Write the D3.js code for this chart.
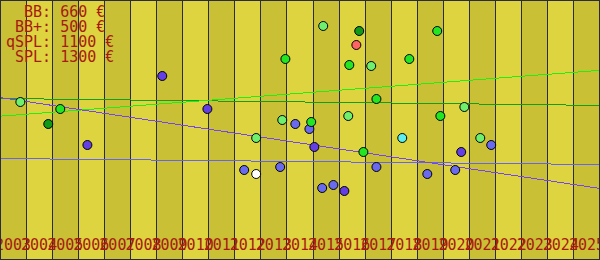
<!DOCTYPE html>
<html><head><meta charset="utf-8">
<script src="https://cdn.jsdelivr.net/npm/d3@7/dist/d3.min.js"></script>
<style>html,body{margin:0;padding:0;background:#fff}svg{display:block}</style>
</head><body>
<script>
// ---- data (years as decimal years, values in chart units: higher = higher on chart) ----
const yearLabels = ["2003","2004","2005","2006","2007","2008","2009","2010","2011","2012","2013","2014",
  "2015","2016","2017","2018","2019","2020","2021","2022","2023","2024","2025"];
const legendLines = ["  BB: 660 €", " BB+: 500 €", "qSPL: 1100 €", " SPL: 1300 €"];

const bluePoints = [[2014.32,136],[2014.86,131],[2012.36,90],[2013.74,93],[2017.43,93],[2015.35,72],
  [2015.78,75],[2019.38,86],[2020.45,90],[2021.83,115]];
const purplePoints = [[2006.35,115],[2009.22,184],[2010.95,151],[2015.05,113],[2016.20,69],[2020.68,108]];
const whitePoints = [[2012.82,86]];
const cyanPoints = [[2018.42,122]];
const lightGreenPoints = [[2003.78,158],[2015.39,234],[2017.23,194],[2020.80,153],[2013.82,140],
  [2016.35,144],[2012.82,122],[2021.41,122]];
const brightGreenPoints = [[2005.31,151],[2013.94,201],[2016.39,195],[2017.43,161],[2019.76,229],
  [2018.69,201],[2019.88,144],[2014.93,138],[2016.93,108]];
const darkGreenPoints = [[2004.85,136],[2016.77,229]];
const redPoints = [[2016.66,215]];

const trendPurple = [[2003,162.5],[2026,71.5]];
const trendBrightGreen = [[2003,143.8],[2026,189.7]];
const trendDarkGreen = [[2003,161.5],[2026,154.6]];
const trendBlue = [[2003,101.5],[2026,95.5]];

// ---- drawing ----
const W = 600, H = 260;
const x = d3.scaleLinear().domain([2003, 2026]).range([0, W]);
const y = d3.scaleLinear().domain([0, 260]).range([H, 0]);

const svg = d3.select("body").append("svg").attr("width", W).attr("height", H);

// year bands
svg.append("g").selectAll("rect").data(yearLabels).join("rect")
  .attr("x", d => x(+d)).attr("y", 0)
  .attr("width", d => x(+d + 1) - x(+d)).attr("height", H)
  .attr("fill", (d, i) => i % 2 === 0 ? "#c9c036" : "#ddd43f")
  .attr("shape-rendering", "crispEdges");

// vertical grid lines
svg.append("g").selectAll("line").data(yearLabels.slice(1)).join("line")
  .attr("x1", d => Math.floor(x(+d)) + 0.5).attr("x2", d => Math.floor(x(+d)) + 0.5)
  .attr("y1", 0).attr("y2", H)
  .attr("stroke", "#2c2c38").attr("stroke-width", 1)
  .attr("shape-rendering", "crispEdges");

// trend lines
const line = d3.line().x(d => x(d[0])).y(d => y(d[1]));
const trends = [
  [trendBlue, "#6464f0"],
  [trendDarkGreen, "#14a014"],
  [trendBrightGreen, "#22ee11"],
  [trendPurple, "#7444f4"]
];
svg.append("g").selectAll("path").data(trends).join("path")
  .attr("d", d => line(d[0]))
  .attr("fill", "none").attr("stroke", d => d[1]).attr("stroke-width", 1)
  .attr("shape-rendering", "crispEdges");

// points
const groups = [
  [bluePoints, "#6a6aee"],
  [purplePoints, "#6440e4"],
  [whitePoints, "#ffffff"],
  [cyanPoints, "#5eeeee"],
  [lightGreenPoints, "#6ef06e"],
  [brightGreenPoints, "#22e622"],
  [darkGreenPoints, "#109a18"],
  [redPoints, "#ff6464"]
];
groups.forEach(([pts, col]) => {
  svg.append("g").selectAll("circle").data(pts).join("circle")
    .attr("cx", d => x(d[0])).attr("cy", d => y(d[1])).attr("r", 4.5)
    .attr("fill", col).attr("stroke", "#000").attr("stroke-width", 1);
});

// x labels
svg.append("g").selectAll("text").data(yearLabels).join("text")
  .attr("x", d => x(+d + 0.5)).attr("y", 250)
  .attr("text-anchor", "middle")
  .attr("font-family", "DejaVu Sans Mono, monospace").attr("font-size", 15)
  .attr("fill", "#a81a10")
  .text(d => d);

// legend
svg.append("g").selectAll("text").data(legendLines).join("text")
  .attr("x", 6).attr("y", (d, i) => 17 + i * 15)
  .attr("font-family", "DejaVu Sans Mono, monospace").attr("font-size", 15)
  .attr("fill", "#a81a10").style("white-space", "pre")
  .text(d => d);

// border
svg.append("rect").attr("x", 0.5).attr("y", 0.5).attr("width", W - 1).attr("height", H - 1)
  .attr("fill", "none").attr("stroke", "#2c2c38").attr("shape-rendering", "crispEdges");
</script>
</body></html>
